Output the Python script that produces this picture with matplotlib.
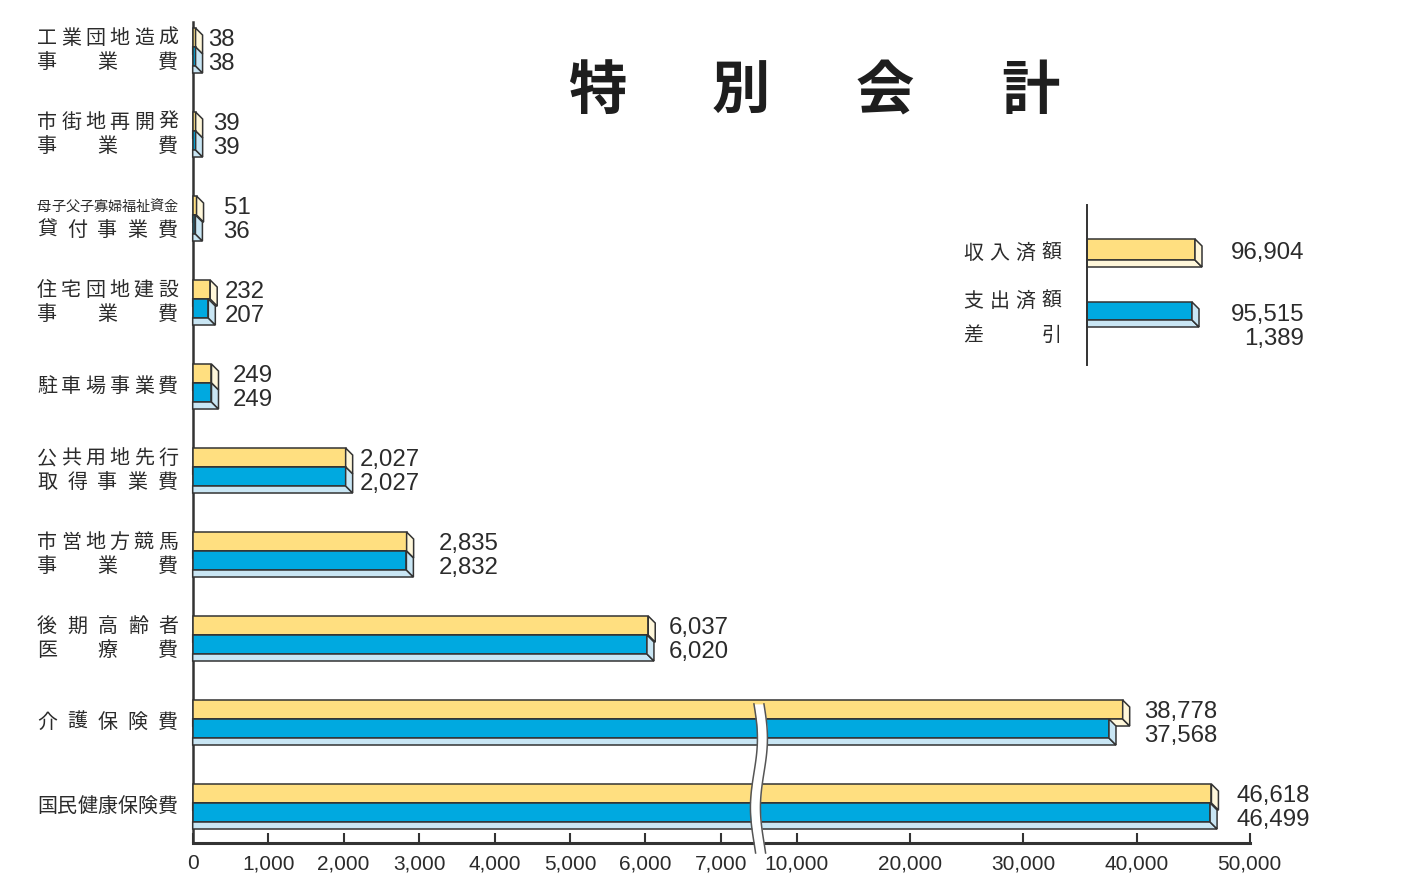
import numpy as np
import matplotlib
matplotlib.use('Agg')
import matplotlib.pyplot as plt
from matplotlib.patches import Polygon

# データ (単位: 百万円)
categories = ['工業団地造成\n事業費', '市街地再開発\n事業費', '母子父子寡婦福祉資金\n貸付事業費',
              '住宅団地建設\n事業費', '駐車場事業費', '公共用地先行\n取得事業費',
              '市営地方競馬\n事業費', '後期高齢者\n医療費', '介護保険費', '国民健康保険費']
income = [38, 39, 51, 232, 249, 2027, 2835, 6037, 38778, 46618]     # 収入済額
expense = [38, 39, 36, 207, 249, 2027, 2832, 6020, 37568, 46499]   # 支出済額
total_income = 96904
total_expense = 95515
total_diff = 1389
xticks = [0, 1000, 2000, 3000, 4000, 5000, 6000, 7000, 10000, 20000, 30000, 40000, 50000]

# 値ラベルの余白 (px)
val_pad = [6, 10, 20, 8, 14, 7, 25, 14, 14, 18]

CJK = ['Noto Sans CJK JP', 'DejaVu Sans']
NUM = ['Liberation Sans', 'DejaVu Sans']
INK = '#2b2b2b'
EDGE = '#333333'
Y_FRONT, Y_SIDE = '#FFDF80', '#FFF7DA'
B_FRONT, B_SIDE = '#00A9E0', '#C9E6F4'
W, H = 1427, 882
D = 7            # 奥行き (px)
CJK_DY = 3.5     # 漢字の縦位置補正 (px)
NUM_FS = 17.3


# 7,000 と 10,000 の間で軸を省略する
def fwd(v):
    v = np.asarray(v, dtype=float)
    return np.where(v <= 7000, v / 1000,
                    np.where(v < 10000, 7 + (v - 7000) / 3000 * 1.008,
                             8.008 + (v - 10000) / 10000 * 1.5))


def inv(u):
    u = np.asarray(u, dtype=float)
    return np.where(u <= 7, u * 1000,
                    np.where(u < 8.008, 7000 + (u - 7) / 1.008 * 3000,
                             10000 + (u - 8.008) / 1.5 * 10000))


fig = plt.figure(figsize=(W / 100, H / 100), dpi=100)
fig.patch.set_facecolor('white')

ax = fig.add_axes([192.7 / W, (H - 843) / H, (1249.7 - 192.7) / W, (843 - 22) / H])
ax.set_xscale('function', functions=(fwd, inv))
ax.set_xlim(0, 50000)
ax.set_ylim(9.476, -0.298)
ax.set_facecolor('none')
for s in ['top', 'right']:
    ax.spines[s].set_visible(False)
ax.spines['left'].set_linewidth(1.8)
ax.spines['left'].set_color(EDGE)
ax.spines['bottom'].set_linewidth(2.2)
ax.spines['bottom'].set_color(EDGE)
ax.set_yticks([])
ax.set_xticks(xticks)
ax.set_xticklabels(['{:,}'.format(t) for t in xticks])
ax.tick_params(axis='x', direction='in', length=7, width=1.5, color=EDGE, pad=8,
               labelsize=15, labelcolor=INK)
for lab in ax.get_xticklabels():
    lab.set_family(['Liberation Sans Narrow', 'Liberation Sans'])

# ピクセル座標のオーバーレイ
over = fig.add_axes([0, 0, 1, 1])
over.set_xlim(0, W)
over.set_ylim(H, 0)
over.axis('off')


def to_px(x, y):
    d = ax.transData.transform((x, y))
    return d[0], H - d[1]


def poly(pts, fc, z=3):
    over.add_patch(Polygon(pts, closed=True, facecolor=fc, edgecolor=EDGE,
                           linewidth=1.1, joinstyle='miter', zorder=z))


def bar3d(x0, x1, top, bot, front, side, show_bottom=True, z=3):
    poly([(x0, top), (x1, top), (x1, bot), (x0, bot)], front, z)
    if show_bottom:
        poly([(x0, bot), (x1, bot), (x1 + D, bot + D), (x0, bot + D)], side, z)
    poly([(x1, top), (x1 + D, top + D), (x1 + D, bot + D), (x1, bot)], side, z)


BH = 0.226
for i in range(len(categories)):
    x0, ytop = to_px(0, i - BH)
    _, ymid = to_px(0, i)
    _, ybot = to_px(0, i + BH)
    xi = to_px(income[i], i)[0]
    xe = to_px(expense[i], i)[0]
    bar3d(x0, xi, ytop, ymid, Y_FRONT, Y_SIDE)
    bar3d(x0, xe, ymid, ybot, B_FRONT, B_SIDE)

    # 値ラベル
    lx = max(xi, xe) + D + val_pad[i]
    over.text(lx, ymid - 1.5, '{:,}'.format(income[i]), ha='left', va='baseline',
              fontsize=NUM_FS, family=NUM, color=INK)
    over.text(lx, ymid + 22.5, '{:,}'.format(expense[i]), ha='left', va='baseline',
              fontsize=NUM_FS, family=NUM, color=INK)


# 均等割付のカテゴリラベル
LBL_L, LBL_R = 37, 178


def spread_at(text, x0, x1, y, em):
    n = len(text)
    step = (x1 - x0 - em) / (n - 1)
    for k, ch in enumerate(text):
        if ch != ' ':
            over.text(x0 + em / 2 + k * step, y + CJK_DY, ch, ha='center', va='center',
                      fontsize=em * 0.72, family=CJK, color=INK)


for i, cat in enumerate(categories):
    _, yc = to_px(0, i)
    lines = cat.split('\n')
    if len(lines) == 1:
        spread_at(lines[0], LBL_L, LBL_R, yc, 20)
    else:
        spread_at(lines[0], LBL_L, LBL_R, yc - 12, 14.2 if len(lines[0]) > 7 else 20)
        spread_at(lines[1], LBL_L, LBL_R, yc + 12, 20)

# 省略記号 (波線)
xc = to_px(8500, 0)[0]
yy = np.linspace(to_px(0, 7.82)[1], 853, 80)
wave = 3.5 * np.sin((yy - yy[0]) / 22.0)
over.fill_betweenx(yy, xc - 5 + wave, xc + 5 + wave, color='white', zorder=6, lw=0)
over.plot(xc - 5 + wave, yy, color='#555555', lw=1.1, zorder=7)
over.plot(xc + 5 + wave, yy, color='#555555', lw=1.1, zorder=7)

# タイトル
for ch, x in zip('特別会計', [597, 741, 885, 1030]):
    over.text(x, 88 + 4, ch, ha='center', va='center', fontsize=42, fontweight='bold',
              family=CJK, color='#1e1e1e')

# 凡例
over.plot([1087, 1087], [205, 365], color=EDGE, lw=1.4, zorder=4)
bar3d(1087, 1195, 239, 260, Y_FRONT, Y_SIDE)
bar3d(1087, 1192, 302, 320, B_FRONT, B_SIDE)

spread_at('収入済額', 963, 1062, 250, 20)
spread_at('支出済額', 963, 1062, 298, 20)
spread_at('差  引', 963, 1062, 332, 20)
over.text(1304, 258.5, '{:,}'.format(total_income), ha='right', va='baseline',
          fontsize=NUM_FS, family=NUM, color=INK)
over.text(1304, 321.5, '{:,}'.format(total_expense), ha='right', va='baseline',
          fontsize=NUM_FS, family=NUM, color=INK)
over.text(1304, 345.5, '{:,}'.format(total_diff), ha='right', va='baseline',
          fontsize=NUM_FS, family=NUM, color=INK)

fig.savefig('out.png', dpi=100)
